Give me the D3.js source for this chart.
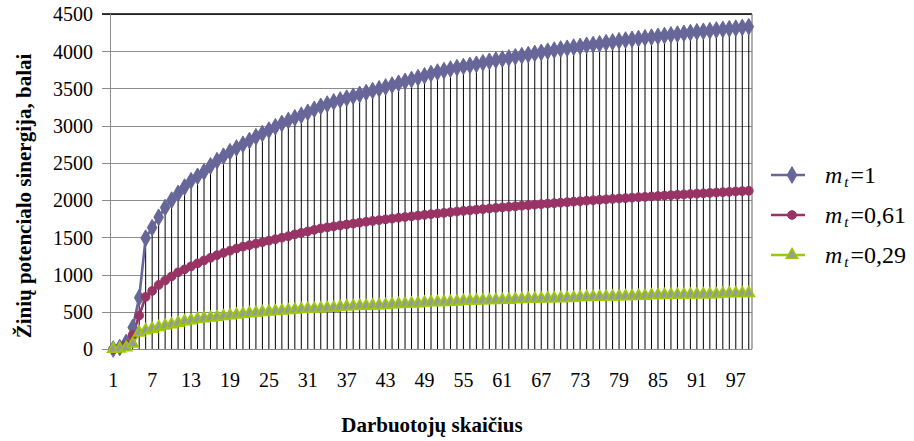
<!DOCTYPE html>
<html>
<head>
<meta charset="utf-8">
<script src="https://cdn.jsdelivr.net/npm/d3@7"></script>
<style>
  body { margin: 0; background: #fff; }
  svg { display: block; }
</style>
</head>
<body>
<svg id="chart" width="914" height="441"></svg>
<script>
// Number of employees (category axis)
const employees = [
  1, 2, 3, 4, 5, 6, 7, 8, 9, 10, 11, 12, 13, 14, 15, 16, 17, 18, 19, 20,
  21, 22, 23, 24, 25, 26, 27, 28, 29, 30, 31, 32, 33, 34, 35, 36, 37, 38, 39, 40,
  41, 42, 43, 44, 45, 46, 47, 48, 49, 50, 51, 52, 53, 54, 55, 56, 57, 58, 59, 60,
  61, 62, 63, 64, 65, 66, 67, 68, 69, 70, 71, 72, 73, 74, 75, 76, 77, 78, 79, 80,
  81, 82, 83, 84, 85, 86, 87, 88, 89, 90, 91, 92, 93, 94, 95, 96, 97, 98, 99
];

// Knowledge potential synergy, points, for m_t = 1
const synergyM1 = [
  0, 20, 90, 290, 690, 1490, 1630, 1770, 1900, 2000,
  2090, 2175, 2260, 2320, 2380, 2460, 2530, 2590, 2650, 2700,
  2750, 2800, 2850, 2895, 2940, 2985, 3030, 3070, 3105, 3140,
  3180, 3220, 3260, 3290, 3320, 3345, 3370, 3395, 3420, 3445,
  3470, 3495, 3520, 3545, 3570, 3595, 3620, 3645, 3670, 3700,
  3720, 3740, 3760, 3780, 3795, 3810, 3825, 3845, 3865, 3880,
  3895, 3910, 3925, 3940, 3955, 3970, 3985, 4000, 4015, 4030,
  4040, 4055, 4065, 4080, 4090, 4100, 4115, 4125, 4140, 4150,
  4160, 4170, 4180, 4190, 4200, 4210, 4220, 4230, 4240, 4250,
  4260, 4268, 4276, 4285, 4293, 4302, 4310, 4320, 4330
];

// m_t = 0,61
const synergyM061 = [
  0, 10, 60, 190, 450, 700, 780, 860, 920, 975,
  1030, 1070, 1110, 1150, 1190, 1225, 1260, 1290, 1320, 1350,
  1375, 1395, 1415, 1435, 1455, 1475, 1495, 1515, 1540, 1560,
  1580, 1600, 1620, 1634, 1647, 1660, 1673, 1685, 1697, 1709,
  1720, 1731, 1742, 1752, 1763, 1773, 1783, 1792, 1802, 1811,
  1820, 1829, 1838, 1847, 1855, 1863, 1871, 1879, 1887, 1895,
  1903, 1910, 1917, 1925, 1932, 1939, 1946, 1953, 1959, 1966,
  1972, 1979, 1985, 1992, 1998, 2004, 2010, 2016, 2022, 2027,
  2033, 2039, 2044, 2050, 2055, 2061, 2066, 2071, 2076, 2082,
  2087, 2092, 2097, 2102, 2106, 2111, 2116, 2121, 2125
];

// m_t = 0,29
const synergyM029 = [
  0, 5, 20, 70, 220, 250, 270, 292, 312, 330,
  350, 370, 385, 400, 410, 420, 430, 440, 450, 460,
  470, 478, 486, 494, 500, 507, 514, 520, 527, 533,
  538, 540, 545, 550, 553, 566, 570, 574, 577, 580,
  583, 586, 590, 600, 603, 606, 609, 612, 622, 625,
  628, 630, 633, 636, 645, 648, 650, 652, 654, 656,
  658, 660, 668, 670, 672, 674, 676, 678, 680, 682,
  684, 686, 695, 697, 699, 700, 702, 704, 706, 708,
  710, 712, 713, 722, 724, 725, 727, 728, 729, 731,
  732, 733, 734, 735, 745, 747, 748, 749, 750
];

const seriesNames = ["1", "0,61", "0,29"];
const xTickLabels = ["1", "7", "13", "19", "25", "31", "37", "43", "49", "55", "61", "67", "73", "79", "85", "91", "97"];
const yTickValues = [0, 500, 1000, 1500, 2000, 2500, 3000, 3500, 4000, 4500];
const xTitle = "Darbuotojų skaičius";
const yTitle = "Žinių potencialo sinergija, balai";

const series = [
  { name: seriesNames[0], values: synergyM1, color: "#666699", fill: "#666699", symbol: d3.symbolDiamond, size: 80 },
  { name: seriesNames[1], values: synergyM061, color: "#993366", fill: "#993366", symbol: d3.symbolCircle, size: 60 },
  { name: seriesNames[2], values: synergyM029, color: "#99CC00", fill: "#999999", symbol: d3.symbolTriangle, size: 55 }
];

const svg = d3.select("#chart");
const plot = { left: 110, right: 752, top: 14, bottom: 349 };
const serif = '"Liberation Serif", "Times New Roman", serif';

const x = d3.scaleBand().domain(employees).range([plot.left, plot.right]).paddingInner(0).paddingOuter(0);
const cx = d => x(d) + x.bandwidth() / 2;
const y = d3.scaleLinear().domain([0, 4500]).range([plot.bottom, plot.top]);

// Horizontal gridlines with outside ticks
const yAxis = d3.axisLeft(y).tickValues(yTickValues).tickSize(-(plot.right - plot.left)).tickSizeOuter(0).tickPadding(10).tickFormat(d3.format("d"));
const gy = svg.append("g").attr("transform", `translate(${plot.left},0)`).call(yAxis);
gy.select(".domain").remove();
gy.selectAll(".tick line").attr("stroke", "#8c8c8c").attr("x1", -8).attr("shape-rendering", "crispEdges");
gy.selectAll(".tick text").attr("fill", "#000").attr("x", -17).attr("dy", "0.34em")
  .style("font-family", serif).style("font-size", "20px");

// Plot frame
svg.append("line").attr("x1", plot.left - 8).attr("x2", plot.right).attr("y1", plot.top).attr("y2", plot.top)
  .attr("stroke", "#000").attr("stroke-width", 1.6);
svg.append("line").attr("x1", plot.left).attr("x2", plot.left).attr("y1", plot.top).attr("y2", plot.bottom)
  .attr("stroke", "#8c8c8c").attr("shape-rendering", "crispEdges");
svg.append("line").attr("x1", plot.right).attr("x2", plot.right).attr("y1", plot.top).attr("y2", plot.bottom)
  .attr("stroke", "#7a7a7a").attr("stroke-width", 1.2);

// Drop lines from the highest point of each category down to the axis
const dropData = employees.map((e, i) => ({ e, top: d3.max(series, s => s.values[i]) }));
svg.append("g").selectAll("line").data(dropData).join("line")
  .attr("x1", d => cx(d.e)).attr("x2", d => cx(d.e))
  .attr("y1", d => y(d.top)).attr("y2", y(0))
  .attr("stroke", "#000").attr("stroke-width", 1);

// X axis labels
const xLabelSet = new Set(xTickLabels);
const xAxis = d3.axisBottom(x).tickValues(employees.filter(e => xLabelSet.has(String(e)))).tickSize(0).tickPadding(24);
const gx = svg.append("g").attr("transform", `translate(0,${plot.bottom})`).call(xAxis);
gx.select(".domain").attr("stroke", "#8c8c8c").attr("d", `M${plot.left},0.5H${plot.right}`);
gx.selectAll(".tick text").attr("fill", "#000")
  .style("font-family", serif).style("font-size", "20px");

// Series lines and markers
const line = d3.line().x((d, i) => cx(employees[i])).y(d => y(d));
series.forEach(s => {
  svg.append("path").datum(s.values).attr("d", line)
    .attr("fill", "none").attr("stroke", s.color).attr("stroke-width", 2.6).attr("stroke-linejoin", "round");
});
series.forEach(s => {
  const sym = d3.symbol().type(s.symbol).size(s.size);
  svg.append("g").selectAll("path").data(s.values).join("path")
    .attr("d", sym)
    .attr("transform", (d, i) => `translate(${cx(employees[i])},${y(d)})`)
    .attr("fill", s.fill)
    .attr("stroke", s.color).attr("stroke-width", s.symbol === d3.symbolTriangle ? 1.6 : 1);
});

// Axis titles
svg.append("text").attr("x", 432).attr("y", 432).attr("text-anchor", "middle")
  .style("font-family", serif).style("font-size", "21px").style("font-weight", "bold").text(xTitle);
svg.append("text").attr("transform", "translate(31,196) rotate(-90)").attr("text-anchor", "middle")
  .style("font-family", serif).style("font-size", "21px").style("font-weight", "bold").text(yTitle);

// Legend
const legend = svg.append("g");
series.forEach((s, i) => {
  const ly = 175 + i * 40;
  legend.append("line").attr("x1", 771).attr("x2", 805).attr("y1", ly).attr("y2", ly)
    .attr("stroke", s.color).attr("stroke-width", 2.6);
  legend.append("path").attr("d", d3.symbol().type(s.symbol).size(s.size)())
    .attr("transform", `translate(792,${ly})`).attr("fill", s.fill)
    .attr("stroke", s.color).attr("stroke-width", s.symbol === d3.symbolTriangle ? 1.6 : 1);
  const t = legend.append("text").attr("x", 825).attr("y", ly + 8)
    .style("font-family", serif).style("font-size", "24px").attr("fill", "#000");
  t.append("tspan").style("font-style", "italic").text("m");
  t.append("tspan").style("font-style", "italic").style("font-size", "15px").attr("dy", 4).attr("dx", 2).text("t");
  t.append("tspan").attr("dy", -4).attr("dx", 2).text("=" + s.name);
});
</script>
</body>
</html>
